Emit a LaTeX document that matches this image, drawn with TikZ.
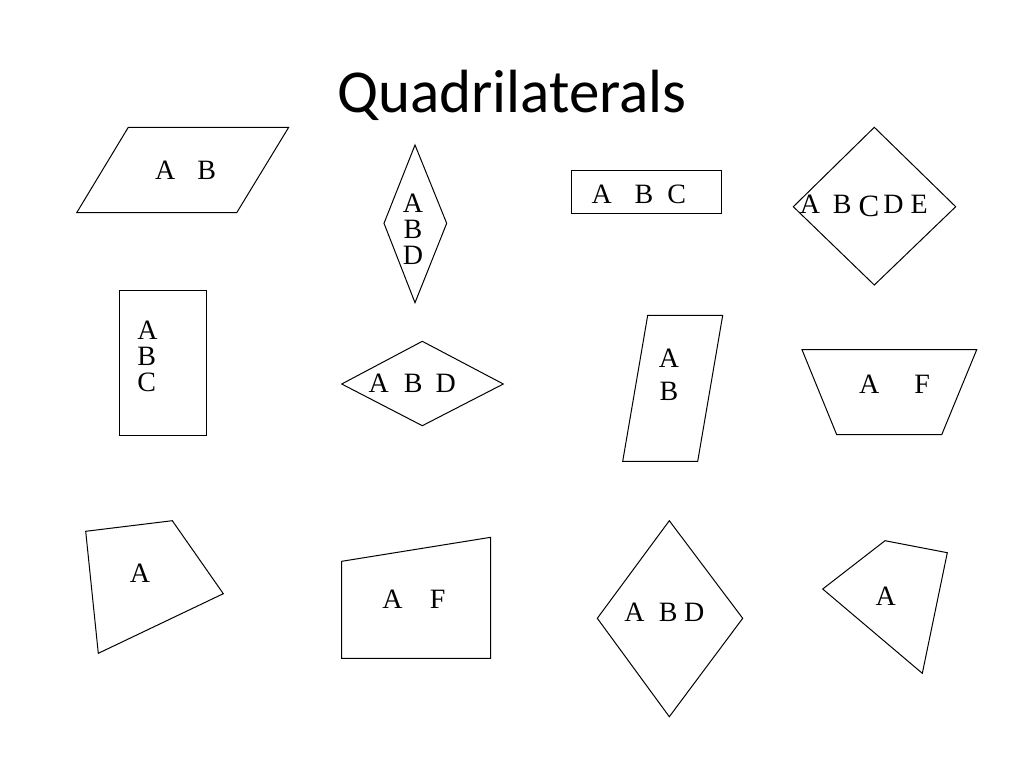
\documentclass[tikz,border=0pt]{standalone}
\usepackage{fontspec}
\setmainfont{Liberation Serif}
\newfontfamily\titlefont{Carlito}
\usepackage{tikz}
\tikzstyle{quad} = [draw=black, line width=1pt]
\tikzstyle{letters} = [inner sep=0pt, font=\fontsize{28}{26}\selectfont]
\tikzstyle{heading} = [inner sep=0pt, font=\titlefont\fontsize{61}{61}\selectfont]
\newcommand{\gap}[1]{\hspace{#1pt}}

\begin{document}
\begin{tikzpicture}[x=1pt, y=-1pt]
    \useasboundingbox (0,0) rectangle (1024,768);
    \node (title) [heading, anchor=base] at (512,112) {Quadrilaterals};
    % top row
    \draw [quad] (128.3,127.3) -- (288.7,127.3) -- (236.7,212.7) -- (76.7,212.7) -- cycle;
    \node (parall) [letters] at (185.5,170) {A\gap{22}B};
    \draw [quad] (415,145) -- (446.7,223.3) -- (415,302.7) -- (384,223.3) -- cycle;
    \node (thin) [letters, align=center] at (413,229) {A\\B\\D};
    \draw [quad] (571.7,170.7) rectangle (721.3,213.3);
    \node (flat) [letters] at (638.8,194) {A\gap{23}B\gap{14}C};
    \draw [quad] (874.3,127.3) -- (955.7,206.7) -- (874.3,285) -- (793.3,206.7) -- cycle;
    \node (square) [letters] at (863.7,206) {A\gap{13}B\gap{7}\raisebox{-3pt}{\fontsize{31}{31}\selectfont C}\gap{4}D\gap{7}E};
    % middle row
    \draw [quad] (119.3,290) rectangle (206.7,435.3);
    \node (tall) [letters, align=left] at (147.6,356.4) {A\\B\\C};
    \draw [quad] (341.7,384) -- (422.3,341.3) -- (503.3,384) -- (422.3,425.7) -- cycle;
    \node (rhomb) [letters] at (412.3,383.3) {A\gap{15}B\gap{13}D};
    \draw [quad] (647.7,315.3) -- (722.7,315.3) -- (697.7,461.3) -- (622.7,461.3) -- cycle;
    \node (slant) [letters, align=center] at (669,375) {A\\[7pt]B};
    \draw [quad] (802,349.7) -- (976.7,349.7) -- (941.7,434.7) -- (836.7,434.7) -- cycle;
    \node (trap) [letters] at (894.5,384) {A\gap{35}F};
    % bottom row
    \draw [quad] (85.7,531.3) -- (172.3,520.7) -- (223.3,593.7) -- (98.3,653.3) -- cycle;
    \node (kite) [letters] at (140,573.3) {A};
    \draw [quad] (341.7,561.3) -- (490.7,537.3) -- (490.7,658.3) -- (341.7,658.3) -- cycle;
    \node (right) [letters] at (413.9,599) {A\gap{27.5}F};
    \draw [quad] (669.3,520.7) -- (742.7,618.3) -- (669.3,716.7) -- (597.3,618.3) -- cycle;
    \node (tallrhomb) [letters] at (664.3,612.7) {A\gap{14.5}B\gap{6.5}D};
    \draw [quad] (822.7,589) -- (885,540.7) -- (947.3,552.7) -- (922.3,673.3) -- cycle;
    \node (irreg) [letters] at (885.7,596.7) {A};
\end{tikzpicture}
\end{document}
